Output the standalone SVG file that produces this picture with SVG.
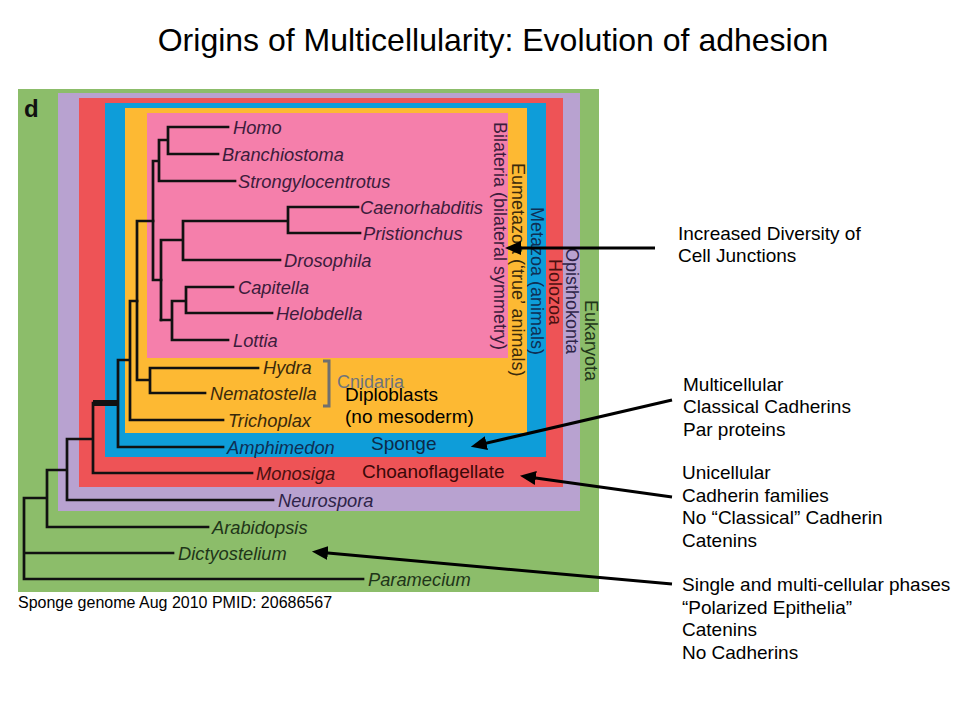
<svg xmlns="http://www.w3.org/2000/svg" width="960" height="720" viewBox="0 0 960 720">
<style>
text{font-family:"Liberation Sans",Arial,sans-serif;}
.sp{font-size:18.3px;font-style:italic;}
.vl{font-size:18px;}
.rt{font-size:19px;fill:#000;}
.br{fill:none;stroke:#111;stroke-width:2.7;stroke-linecap:square;}
.ar{fill:none;stroke:#000;stroke-width:3;}
.c-pk{fill:#3c1c3c;}
.c-or{fill:#3a2a0c;}
.c-bl{fill:#0f2f55;}
.c-rd{fill:#4a1010;}
.c-lv{fill:#2e2448;}
.c-gr{fill:#1f3519;}
</style>
<defs>
<marker id="ah" markerUnits="userSpaceOnUse" markerWidth="17" markerHeight="14" refX="11" refY="7" orient="auto">
<path d="M0,0 L16,7 L0,14 z" fill="#000"/>
</marker>
</defs>
<rect width="960" height="720" fill="#fff"/>
<text x="493" y="51" text-anchor="middle" font-size="32" fill="#000">Origins of Multicellularity: Evolution of adhesion</text>
<g id="panels">
<rect id="eukaryota-box" x="18" y="89" width="581" height="503" fill="#8cbd6a"/>
<rect id="opisthokonta-box" x="58" y="93" width="522" height="418" fill="#b8a2d0"/>
<rect id="holozoa-box" x="79" y="98" width="484" height="389" fill="#ee5356"/>
<rect id="metazoa-box" x="105" y="103" width="441" height="354" fill="#0e9dd9"/>
<rect id="eumetazoa-box" x="125" y="108" width="402" height="325" fill="#fdb933"/>
<rect id="bilateria-box" x="147" y="113" width="361" height="245" fill="#f57fab"/>
<text x="24" y="117" font-size="24" font-weight="bold" fill="#111">d</text>
</g>
<g id="tree">
<path class="br" d="M168,127 H228 M168,154 H218 M168,127 V154 M159,140 H168 M159,140 V181 H235 M153,161 H159 M153,161 V280 H161"/>
<path class="br" d="M161,240 V320 M161,240 H183 M183,221 V260 H280 M183,221 H288 M288,207 V233 M288,207 H358 M288,233 H360"/>
<path class="br" d="M161,320 H172 M172,301 V340 H228 M172,301 H186 M186,287 V313 M186,287 H233 M186,313 H272"/>
<path class="br" d="M137,221 H153 M137,221 V380 H150 M150,368 V393 M150,368 H258 M150,393 H205"/>
<path class="br" d="M130,301 H137 M130,301 V420 H223 M118,360 H130 M118,360 V447 H223"/>
<path d="M93,403 H118" fill="none" stroke="#111" stroke-width="6"/>
<path class="br" d="M93,403 V473 H252 M67,439 H93 M67,439 V500 H273 M47,470 H67 M47,470 V527 H208 M24,498 H47 M24,498 V579 H363 M24,553 H173"/>
</g>
<g id="taxa">
<text class="sp c-pk" x="233" y="133.5">Homo</text>
<text class="sp c-pk" x="222" y="160.5">Branchiostoma</text>
<text class="sp c-pk" x="238" y="187.5">Strongylocentrotus</text>
<text class="sp c-pk" x="360" y="213.5">Caenorhabditis</text>
<text class="sp c-pk" x="363" y="239.5">Pristionchus</text>
<text class="sp c-pk" x="284" y="266.5">Drosophila</text>
<text class="sp c-pk" x="238" y="293.5">Capitella</text>
<text class="sp c-pk" x="276" y="319.5">Helobdella</text>
<text class="sp c-pk" x="233" y="346.5">Lottia</text>
<text class="sp c-or" x="263" y="374">Hydra</text>
<text class="sp c-or" x="210" y="399.5">Nematostella</text>
<text class="sp c-or" x="228" y="426.5">Trichoplax</text>
<text class="sp c-bl" x="227" y="453.5">Amphimedon</text>
<text class="sp c-rd" x="256" y="479.5">Monosiga</text>
<text class="sp c-lv" x="278" y="506.5">Neurospora</text>
<text class="sp c-gr" x="212" y="533.5">Arabidopsis</text>
<text class="sp c-gr" x="178" y="559.5">Dictyostelium</text>
<text class="sp c-gr" x="368" y="585.5">Paramecium</text>
</g>
<g id="clade-labels">
<text class="vl c-pk" transform="translate(494,122) rotate(90)">Bilateria (bilateral symmetry)</text>
<text class="vl c-or" transform="translate(512,163) rotate(90)">Eumetazoa (‘true’ animals)</text>
<text class="vl c-bl" transform="translate(531,207) rotate(90)">Metazoa (animals)</text>
<text class="vl c-rd" transform="translate(549,259) rotate(90)">Holozoa</text>
<text class="vl c-lv" transform="translate(566,248) rotate(90)">Opisthokonta</text>
<text class="vl c-gr" transform="translate(585,300) rotate(90)">Eukaryota</text>
</g>
<g id="cnidaria">
<path d="M323,361 H329 V406 H323" fill="none" stroke="#6f6f6f" stroke-width="3"/>
<text x="337" y="388" font-size="18" fill="#6f747c">Cnidaria</text>
</g>
<g id="group-labels">
<text class="rt" x="345" y="401">Diploblasts</text>
<text class="rt" x="345" y="423">(no mesoderm)</text>
<text class="rt" x="371" y="450" style="fill:#0c2a48">Sponge</text>
<text class="rt" x="362" y="478" style="fill:#3a0808">Choanoflagellate</text>
</g>
<g id="connectors">
<line class="ar" x1="655" y1="248" x2="510" y2="248" marker-end="url(#ah)"/>
<line class="ar" x1="672" y1="400" x2="475.7" y2="445.6" marker-end="url(#ah)"/>
<line class="ar" x1="672" y1="497" x2="524.9" y2="476.5" marker-end="url(#ah)"/>
<line class="ar" x1="672" y1="584" x2="316.9" y2="552" marker-end="url(#ah)"/>
</g>
<g id="notes">
<text class="rt" x="678" y="239.5">Increased Diversity of</text>
<text class="rt" x="678" y="262">Cell Junctions</text>
<text class="rt" x="683" y="390.5">Multicellular</text>
<text class="rt" x="683" y="413">Classical Cadherins</text>
<text class="rt" x="683" y="435.5">Par proteins</text>
<text class="rt" x="682" y="479">Unicellular</text>
<text class="rt" x="682" y="501.5">Cadherin families</text>
<text class="rt" x="682" y="524">No “Classical” Cadherin</text>
<text class="rt" x="682" y="546.5">Catenins</text>
<text class="rt" x="682" y="591">Single and multi-cellular phases</text>
<text class="rt" x="682" y="613.5">“Polarized Epithelia”</text>
<text class="rt" x="682" y="636">Catenins</text>
<text class="rt" x="682" y="658.5">No Cadherins</text>
<text x="18" y="608" font-size="16" fill="#000">Sponge genome Aug 2010 PMID: 20686567</text>
</g>
</svg>
